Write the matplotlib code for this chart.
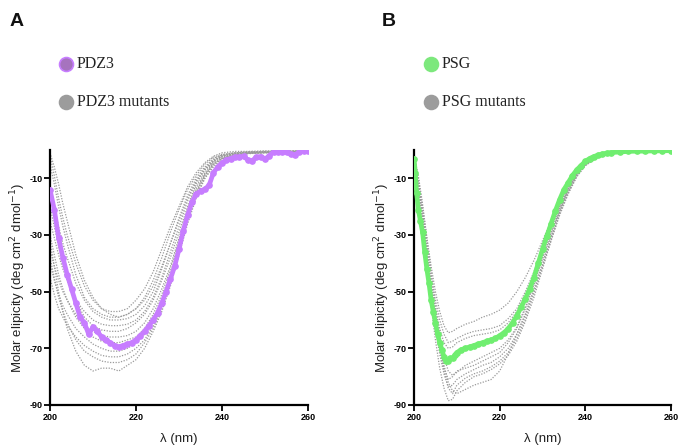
import matplotlib
matplotlib.use("Agg")
import matplotlib.pyplot as plt
from matplotlib.lines import Line2D

# ---------------- data ----------------
# Panel A: PDZ3 (1 nm steps)
wl_pdz3 = list(range(200, 261))
pdz3 = [-14, -21, -31, -38, -44, -49, -54, -59, -61, -65, -62.5, -64, -66, -67, -68, -69,
        -69.5, -69, -68.5, -68, -67, -65.5, -64, -62, -60, -57.5, -54, -50, -45.5, -41,
        -35, -28.5, -23, -18.5, -15.5, -14.5, -13.8, -12.5, -8, -6, -4.5, -3.5, -3, -2.5,
        -2.5, -2.2, -3.5, -3.8, -2.5, -2.3, -3.2, -2, -0.6, -0.8, -0.8, -0.7, -1.5, -1.6,
        -0.7, -0.5, -0.4]

wl_grid_a = [200, 201, 202, 203, 204, 206, 208, 210, 212, 214, 216, 218, 220, 222, 224,
             226, 228, 230, 232, 234, 236, 238, 240, 243, 246, 250, 255, 260]
pdz3_mut1 = [-2, -9, -17, -24, -30, -40, -48, -53, -56, -57, -57, -56, -53, -49, -43,
             -35, -27, -20, -13, -8, -4.5, -2.2, -1, -0.5, -0.5, -0.3, -0.3, -0.3]
pdz3_mut2 = [-5, -12, -20, -27, -33, -44, -52, -56, -58, -59, -59, -58, -56, -52, -46,
             -38, -29, -21, -14, -9, -5, -2.5, -1.5, -1, -0.7, -0.5, -0.5, -0.4]
pdz3_mut3 = [-14, -20, -27, -33, -38, -47, -53, -57, -59, -60, -60, -59.5, -58, -55, -50,
             -42, -33, -24, -16, -10, -6, -3, -1.8, -1, -0.8, -0.6, -0.5, -0.4]
pdz3_mut4 = [-25, -31, -37, -42, -46, -53, -57, -60, -61.5, -62, -62, -61.5, -60, -57, -52,
             -45, -36, -27, -18, -11, -7, -3.5, -2, -1.2, -0.9, -0.7, -0.6, -0.5]
pdz3_mut5 = [-20, -27, -34, -40, -45, -53, -59, -62, -63.5, -64, -64, -63, -61, -58, -53,
             -46, -38, -29, -20, -12, -7, -4, -2.2, -1.3, -1, -0.8, -0.6, -0.5]
pdz3_mut6 = [-35, -41, -46, -50, -53, -58, -62, -64, -65.5, -66, -66, -65.5, -64, -61, -56,
             -49, -41, -31, -21, -13, -8, -4, -2.2, -1.3, -1, -0.8, -0.6, -0.5]
pdz3_mut7 = [-30, -37, -44, -49, -53, -59, -63, -66, -67.5, -68, -68, -67, -66, -63, -58,
             -51, -42, -32, -22, -14, -8.5, -4.5, -2.5, -1.5, -1, -0.8, -0.6, -0.5]
pdz3_mut8 = [-40, -46, -51, -55, -58, -63, -66, -68.5, -70, -71, -71, -70, -68, -65, -60,
             -53, -44, -33, -23, -15, -9, -5, -2.8, -1.6, -1.1, -0.9, -0.7, -0.6]
pdz3_mut9 = [-45, -51, -56, -59, -62, -66, -69, -71, -72.5, -73, -73, -72, -70, -67, -62,
             -55, -46, -35, -24, -15, -9, -5, -3, -1.7, -1.2, -0.9, -0.7, -0.6]
pdz3_mut10 = [-38, -45, -52, -57, -61, -67, -71, -73, -74.5, -75, -75, -74, -72, -68, -63,
              -56, -47, -36, -25, -16, -10, -5.5, -3, -1.8, -1.2, -1, -0.8, -0.6]
pdz3_mut11 = [-32, -41, -50, -57, -63, -71, -76, -78, -77, -77, -78, -76, -74, -70, -64,
              -57, -48, -37, -26, -17, -10, -6, -3.2, -1.9, -1.3, -1, -0.8, -0.6]
pdz3_mut12 = [-1, -6, -12, -19, -25, -37, -46, -52, -56, -58, -59, -58, -56, -53, -48,
              -41, -33, -25, -17, -11, -6.5, -3.5, -1.8, -1, -0.7, -0.5, -0.4, -0.3]
pdz3_mutants = [pdz3_mut1, pdz3_mut2, pdz3_mut3, pdz3_mut4, pdz3_mut5, pdz3_mut6,
                pdz3_mut7, pdz3_mut8, pdz3_mut9, pdz3_mut10, pdz3_mut11, pdz3_mut12]

# Panel B: PSG
wl_psg = [200.0, 200.3, 200.6, 201.0, 201.5, 202.0, 202.5, 203.0, 203.5, 204.0, 204.5,
          205.0, 205.5, 206.0, 206.5, 207.0, 207.5, 208.0, 208.5, 209.0, 209.5, 210.0,
          211, 212, 213, 214, 215, 216, 217, 218, 219, 220, 221, 222, 223, 224, 225, 226,
          227, 228, 229, 230, 231, 232, 233, 234, 235, 236, 237, 238, 239, 240, 241, 242,
          243, 244, 245, 246, 248, 250, 252, 254, 256, 258, 260]
psg = [-3, -8, -15, -21, -25, -29, -36, -42, -47, -53, -57, -61, -65, -68, -70.5, -73,
       -74.5, -74.5, -73.5, -73.5, -72.5, -71.5, -70.5, -70, -69.5, -69, -68.5, -68, -67.5,
       -67, -66.5, -65.5, -64.5, -63, -61, -58.5, -55.5, -52.5, -49, -45, -40, -35, -30.5,
       -26, -21.5, -17.5, -14, -11.5, -9, -7, -5.5, -4, -3, -2.3, -1.8, -1.4, -1.1, -0.9,
       -0.7, -0.5, -0.4, -0.4, -0.3, -0.3, -0.2]

wl_grid_b = [200, 201, 202, 203, 204, 205, 206, 207, 208, 209, 210, 212, 214, 216, 218,
             220, 222, 224, 226, 228, 230, 232, 234, 236, 238, 240, 243, 246, 250, 255, 260]
psg_mut1 = [-2, -10, -20, -31, -41, -50, -57, -62, -64.5, -64, -63, -61.5, -60.5, -59, -58,
            -56.5, -54, -50, -45, -39, -32, -25, -18, -12, -7.5, -4.5, -2, -1, -0.6, -0.4, -0.3]
psg_mut2 = [-3, -11, -22, -33, -44, -53, -60, -65, -68, -67.5, -66.5, -65, -64, -63.5, -63,
            -62, -59.5, -56, -50, -43, -35, -27, -19.5, -13, -8, -4.8, -2.2, -1.1, -0.6, -0.4, -0.3]
psg_mut3 = [-5, -13, -24, -36, -47, -56, -63, -68, -70, -69.5, -68, -66.5, -65.5, -65, -64.5,
            -63.5, -61, -57, -51.5, -44, -36, -27.5, -20, -13.5, -8.5, -5, -2.3, -1.2, -0.6, -0.4, -0.3]
psg_mut4 = [-4, -12, -24, -37, -50, -61, -70, -77, -81, -80, -78, -77, -76, -74.5, -73,
            -71.5, -68, -63, -56, -47.5, -38.5, -29.5, -21, -14, -8.5, -5, -2.3, -1.2, -0.6, -0.4, -0.3]
psg_mut5 = [-6, -14, -26, -39, -52, -63, -72, -79, -83.5, -83, -81, -79, -77.5, -76, -75,
            -73, -70, -65, -58, -49, -40, -30.5, -21.5, -14.5, -9, -5.2, -2.4, -1.2, -0.6, -0.4, -0.3]
psg_mut6 = [-3, -11, -22, -35, -48, -60, -70, -78, -84, -86, -83, -80.5, -79, -78, -76.5,
            -74.5, -71.5, -66.5, -59.5, -50.5, -41, -31, -22, -15, -9, -5.3, -2.4, -1.2, -0.6, -0.4, -0.3]
psg_mut7 = [-8, -16, -28, -41, -55, -67, -77, -84, -88.5, -88, -85, -82, -80, -79, -77.5,
            -75.5, -72.5, -67.5, -60.5, -52, -42, -32, -22.5, -15, -9.2, -5.4, -2.5, -1.3, -0.6, -0.4, -0.3]
psg_mut8 = [-4, -12, -23, -35, -47, -58, -68, -76, -82, -85, -86, -84.5, -83, -82, -81,
            -78, -72, -65, -58, -50, -41, -32, -23, -15.5, -9.5, -5.5, -2.5, -1.3, -0.6, -0.4, -0.3]
psg_mut9 = [-2, -9, -19, -31, -43, -55, -65, -73, -78, -79.5, -78.5, -76, -74.5, -73, -71.5,
            -70, -67, -62.5, -55.5, -47, -38, -29, -20.5, -13.8, -8.5, -5, -2.3, -1.2, -0.6, -0.4, -0.3]
psg_mutants = [psg_mut1, psg_mut2, psg_mut3, psg_mut4, psg_mut5, psg_mut6, psg_mut7,
               psg_mut8, psg_mut9]

x_ticks = [200, 220, 240, 260]
y_ticks = [-10, -30, -50, -70, -90]

# ---------------- styling ----------------
PURPLE = "#c77dff"
GREEN = "#70ee70"
GRAY = "#9a9a9a"
SANS = ["Liberation Sans", "DejaVu Sans"]
SERIF = ["Liberation Serif", "DejaVu Serif"]

fig = plt.figure(figsize=(6.8, 4.45), dpi=100)
W, H = 680, 445


def make_axes(left_px, width_px):
    return fig.add_axes([left_px / W, 40 / H, width_px / W, 255 / H])


def style(ax):
    ax.set_xlim(200, 260)
    ax.set_ylim(-90, 0)
    for s in ("top", "right"):
        ax.spines[s].set_visible(False)
    for s in ("left", "bottom"):
        ax.spines[s].set_linewidth(1.6)
    ax.set_xticks(x_ticks)
    ax.set_yticks(y_ticks)
    ax.set_xticklabels([str(v) for v in x_ticks])
    ax.set_yticklabels([str(v) for v in y_ticks])
    ax.tick_params(direction="out", length=4, width=1.3, pad=1.5, labelsize=6.5)
    for lab in ax.get_xticklabels() + ax.get_yticklabels():
        lab.set_fontweight("bold")
        lab.set_family(SANS)
    ax.set_xlabel("λ (nm)", fontsize=9.5, family=SANS, labelpad=8, color="#222222")
    ax.set_ylabel("Molar elipicity (deg cm$^{2}$ dmol$^{-1}$)", fontsize=9.5,
                  family=SANS, labelpad=1, color="#222222")


axA = make_axes(50, 258)
for m in pdz3_mutants:
    axA.plot(wl_grid_a, m, color=GRAY, lw=0.9, linestyle=(0, (1, 1.2)), zorder=2)
axA.plot(wl_pdz3, pdz3, color=PURPLE, lw=3.4, marker="o", ms=3.8, mec=PURPLE,
         mfc=PURPLE, zorder=5, solid_capstyle="round")
style(axA)

axB = make_axes(414, 257)
for m in psg_mutants:
    axB.plot(wl_grid_b, m, color=GRAY, lw=0.9, linestyle=(0, (1, 1.2)), zorder=2)
axB.plot(wl_psg, psg, color=GREEN, lw=3.4, marker="o", ms=3.8, mec=GREEN,
         mfc=GREEN, zorder=5, solid_capstyle="round")
style(axB)

# panel letters
fig.text(10 / W, 1 - 22 / H, "A", fontsize=14, fontweight="bold", family=SANS,
         va="center", ha="left", color="#111111")
fig.text(382 / W, 1 - 22 / H, "B", fontsize=14, fontweight="bold", family=SANS,
         va="center", ha="left", color="#111111")

# legends
def legend_item(xc, yc, face, edge, label):
    fig.add_artist(Line2D([xc / W], [1 - yc / H], marker="o", ms=10, mfc=face, mec=edge,
                          mew=1.2, linestyle="none", transform=fig.transFigure))
    fig.text((xc + 11) / W, 1 - yc / H, label, fontsize=11.5, family=SERIF, va="center",
             ha="left", color="#222222")


legend_item(66, 64, "#a673be", "#c77dff", "PDZ3")
legend_item(66, 102, "#9c9c9c", "#9c9c9c", "PDZ3 mutants")
legend_item(431, 64, "#7de87d", "#7de87d", "PSG")
legend_item(431, 102, "#9c9c9c", "#9c9c9c", "PSG mutants")

fig.savefig("out.png", dpi=100)
